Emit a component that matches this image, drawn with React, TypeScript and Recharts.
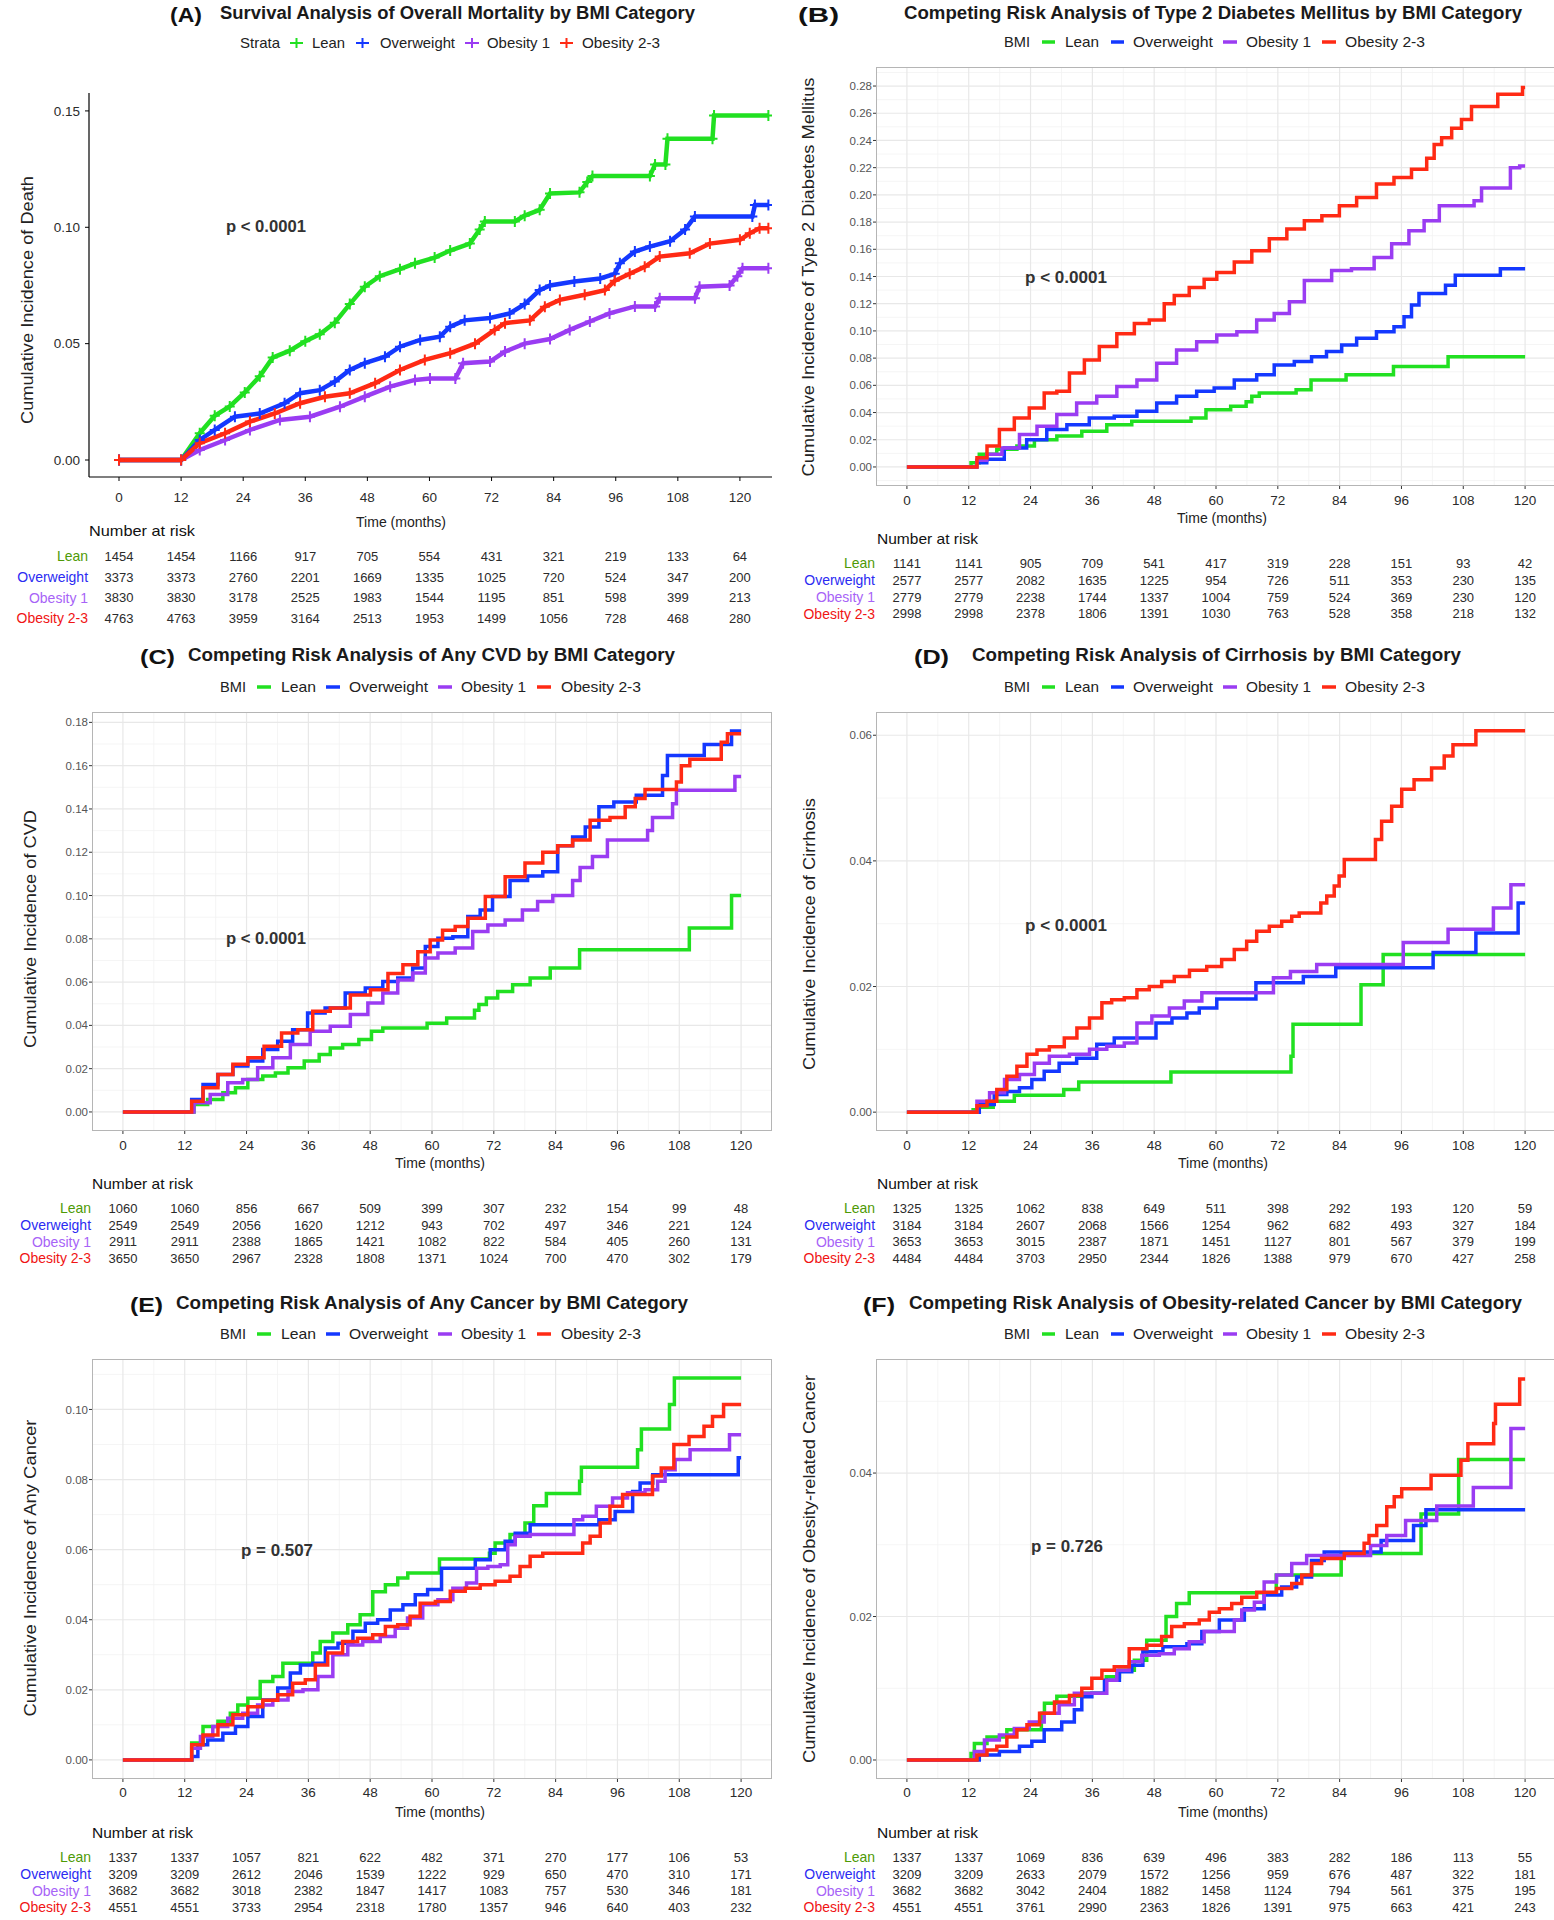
import React from "react";
import { LineChart, Line, XAxis, YAxis, CartesianGrid, ScatterChart, Scatter } from "recharts";

type Pt = [number, number];

const GROUPS = ["Lean", "Overweight", "Obesity 1", "Obesity 2-3"];
const LINE_COLORS = ["#21E021", "#1438FF", "#9A3CF2", "#FF2A14"];
const ROW_COLORS = ["#4E9A06", "#2B2BF2", "#A763F7", "#F01414"];
const MONTHS = [0, 12, 24, 36, 48, 60, 72, 84, 96, 108, 120];
const MINOR_MONTHS = [6, 18, 30, 42, 54, 66, 78, 90, 102, 114];

// (A) overall mortality, Kaplan-Meier style with censor marks
const A_LEAN: Pt[] = [[0,0],[12,0],[15.6,0.0115],[18.5,0.019],[21.4,0.023],[24.3,0.029],[27.2,0.036],[29.7,0.044],[33,0.047],[36,0.051],[38.8,0.054],[41.7,0.059],[44.6,0.067],[47.5,0.0745],[50.4,0.079],[54.3,0.082],[57.2,0.0845],[61,0.087],[64,0.09],[67.8,0.093],[69.7,0.099],[70.7,0.1025],[76.5,0.1025],[78.4,0.105],[81.3,0.1075],[83.3,0.1145],[89,0.115],[90.5,0.1195],[91.5,0.122],[102.6,0.122],[103.6,0.127],[105.6,0.127],[106,0.138],[114.7,0.138],[115,0.148],[125.5,0.148]];
const A_OVER: Pt[] = [[0,0],[12,0],[15.6,0.0086],[18.5,0.0129],[22.4,0.0186],[27.2,0.02],[32,0.0244],[35,0.0287],[38.8,0.03],[41.7,0.0337],[44.6,0.0387],[47.5,0.0416],[51.4,0.0444],[54.3,0.0487],[58.2,0.0516],[62,0.053],[64,0.0573],[66.8,0.06],[71.7,0.061],[75.5,0.063],[78.4,0.067],[81.3,0.073],[83.3,0.075],[88,0.0767],[93,0.078],[95.8,0.08],[96.8,0.0845],[99.7,0.0896],[102.6,0.0917],[106.5,0.094],[109.4,0.099],[111.3,0.1046],[122.4,0.1046],[122.9,0.1096],[125.5,0.1096]];
const A_OB1: Pt[] = [[0,0],[12,0],[15.6,0.0043],[20.5,0.0086],[25.3,0.0129],[31.1,0.0172],[36.9,0.0186],[42.7,0.0229],[47.5,0.0272],[52.4,0.0315],[57.2,0.0344],[60.1,0.035],[65,0.035],[66.5,0.0416],[71.7,0.0423],[74.6,0.0466],[78.4,0.05],[83.3,0.052],[87.1,0.0559],[91,0.0595],[94.8,0.063],[99.7,0.066],[103.6,0.066],[104.5,0.0695],[111.3,0.0695],[112.2,0.0745],[118,0.075],[119.5,0.079],[120.5,0.0824],[125.5,0.0824]];
const A_OB23: Pt[] = [[0,0],[12,0],[15.6,0.0072],[20.5,0.0115],[25.3,0.0165],[30.1,0.02],[35,0.0244],[39.8,0.0272],[44.6,0.0287],[49.5,0.033],[54.3,0.0387],[59.1,0.043],[64,0.0459],[68.8,0.05],[72.6,0.0559],[74.6,0.0588],[79.4,0.06],[82.3,0.0659],[85.2,0.0688],[90,0.071],[93.9,0.073],[95.8,0.077],[98.7,0.08],[101.6,0.083],[104.5,0.0874],[110.3,0.0888],[114.2,0.093],[120,0.0946],[121.9,0.0974],[123.8,0.0996],[125.5,0.0996]];
const A_RISK = [
  [1454, 1454, 1166, 917, 705, 554, 431, 321, 219, 133, 64],
  [3373, 3373, 2760, 2201, 1669, 1335, 1025, 720, 524, 347, 200],
  [3830, 3830, 3178, 2525, 1983, 1544, 1195, 851, 598, 399, 213],
  [4763, 4763, 3959, 3164, 2513, 1953, 1499, 1056, 728, 468, 280],
];

// (B) type 2 diabetes
const B_LEAN: Pt[] = [[0,0],[12.3,0],[12.6,0.003],[15.5,0.0093],[19.4,0.013],[23.3,0.0154],[26.2,0.02],[32,0.0227],[35.9,0.0263],[41.7,0.031],[45.6,0.0336],[55,0.0336],[55.3,0.036],[57.9,0.036],[58.2,0.042],[62.7,0.042],[63,0.0446],[65.7,0.0446],[66,0.048],[67.9,0.052],[68.9,0.0543],[75.4,0.0543],[75.7,0.0568],[78.3,0.0568],[78.6,0.064],[85.1,0.064],[85.4,0.0677],[94.3,0.0677],[94.6,0.0738],[104.9,0.0738],[105.2,0.0811],[120,0.0811]];
const B_OVER: Pt[] = [[0,0],[12.6,0],[14.5,0.003],[16.5,0.0056],[21.3,0.014],[25.2,0.02],[29.1,0.0275],[33,0.031],[37.8,0.036],[42.7,0.0373],[46.6,0.041],[50.4,0.047],[54.3,0.052],[58.2,0.0556],[61.1,0.058],[66,0.064],[69.8,0.0677],[72.8,0.075],[77.6,0.0775],[79.5,0.081],[83.4,0.0848],[85.4,0.0897],[89.2,0.0946],[93.1,0.0994],[96,0.103],[97,0.1104],[98.9,0.119],[99.9,0.1275],[104.3,0.1275],[104.8,0.1335],[106.2,0.1335],[106.7,0.141],[115,0.141],[115.4,0.1457],[120,0.1457]];
const B_OB1: Pt[] = [[0,0],[12.6,0],[14.5,0.005],[16.5,0.0093],[20.4,0.014],[23.3,0.0239],[27.2,0.03],[31,0.0385],[34.9,0.047],[38.8,0.052],[42.7,0.0592],[46.6,0.064],[50.4,0.0763],[54.3,0.086],[58.2,0.092],[62.1,0.097],[66,0.0994],[69.8,0.108],[72.8,0.1128],[75.7,0.1214],[78.6,0.137],[81.5,0.137],[83.4,0.1445],[89.2,0.1457],[92.2,0.154],[96,0.164],[98.9,0.1737],[101.9,0.181],[104.8,0.192],[109.6,0.192],[110.6,0.1957],[112.5,0.205],[116.4,0.205],[117.9,0.22],[120,0.2213]];
const B_OB23: Pt[] = [[0,0],[12.6,0],[14.6,0.0068],[16.5,0.0154],[19.4,0.0275],[22.3,0.036],[25.2,0.0434],[28.1,0.0543],[30.1,0.0556],[33,0.069],[35.9,0.0787],[38.8,0.0885],[42.7,0.098],[45.6,0.1055],[48.5,0.108],[51.4,0.12],[52.4,0.126],[57.2,0.132],[58.2,0.138],[62.1,0.143],[65,0.1506],[68.9,0.159],[71.8,0.1677],[75.7,0.175],[78.6,0.181],[82.5,0.1847],[85.4,0.192],[89.2,0.198],[93.1,0.208],[96,0.2127],[99.9,0.2188],[101.9,0.227],[102.8,0.237],[104.8,0.242],[106.7,0.249],[108.6,0.2554],[110.6,0.265],[114.5,0.265],[114.9,0.274],[119.3,0.274],[119.7,0.279],[120,0.279]];
const B_RISK = [
  [1141, 1141, 905, 709, 541, 417, 319, 228, 151, 93, 42],
  [2577, 2577, 2082, 1635, 1225, 954, 726, 511, 353, 230, 135],
  [2779, 2779, 2238, 1744, 1337, 1004, 759, 524, 369, 230, 120],
  [2998, 2998, 2378, 1806, 1391, 1030, 763, 528, 358, 218, 132],
];

// (C) any CVD
const C_LEAN: Pt[] = [[0,0],[12.6,0],[15,0.0035],[17.9,0.0058],[20.9,0.0089],[22.8,0.0112],[25.7,0.015],[28.6,0.0166],[30.6,0.018],[33.5,0.0204],[36.9,0.0235],[39.3,0.0266],[41.2,0.0296],[44.1,0.0312],[47.5,0.0335],[49,0.0373],[51.9,0.0388],[58.9,0.0388],[59.2,0.041],[62.7,0.041],[63,0.0434],[68.1,0.0434],[68.4,0.047],[69.8,0.0496],[71.3,0.0527],[74.2,0.0557],[77.1,0.0588],[81,0.0619],[84.9,0.0665],[88.5,0.0665],[88.8,0.075],[109.8,0.075],[110.1,0.085],[118,0.085],[118.3,0.1],[120,0.1]];
const C_OVER: Pt[] = [[0,0],[12.6,0],[14.1,0.0058],[17,0.0127],[19.9,0.0173],[22.8,0.0212],[25.7,0.0235],[28.6,0.0289],[31.5,0.0327],[34.4,0.038],[37.3,0.0457],[41.2,0.048],[45.1,0.055],[49,0.0573],[51.9,0.0603],[54.8,0.0619],[57.7,0.0665],[59.7,0.0764],[62.6,0.0803],[65.5,0.081],[68.4,0.0903],[70.3,0.0933],[73.2,0.0995],[77.1,0.107],[80,0.109],[83,0.111],[85.8,0.123],[88.8,0.127],[90.7,0.1317],[94.1,0.141],[96.5,0.1432],[99.4,0.1432],[99.9,0.1463],[104.3,0.1463],[105.2,0.1555],[106.2,0.1647],[112.7,0.1647],[113,0.1698],[118,0.1698],[118.3,0.176],[120,0.176]];
const C_OB1: Pt[] = [[0,0],[12.6,0],[15,0.0043],[18.9,0.0081],[21.8,0.0135],[24.7,0.015],[27.6,0.0204],[30.6,0.025],[34.4,0.0312],[38.3,0.0373],[42.2,0.0396],[46.1,0.045],[49,0.0503],[51.9,0.055],[54.8,0.061],[57.7,0.0642],[59.7,0.0711],[62.6,0.0734],[66.4,0.0757],[69.4,0.0834],[72.3,0.0864],[76.1,0.0887],[79,0.0933],[82,0.0972],[84.9,0.1],[86.8,0.1],[87.8,0.107],[89.7,0.113],[92.6,0.118],[95.5,0.1256],[101.4,0.1256],[102.3,0.13],[103.3,0.136],[106.2,0.136],[107.2,0.1424],[107.7,0.1486],[118.3,0.1486],[119.3,0.155],[120,0.155]];
const C_OB23: Pt[] = [[0,0],[12.6,0],[14.1,0.005],[17,0.0112],[19.9,0.0173],[22.8,0.022],[25.7,0.025],[29.1,0.0304],[32.5,0.0365],[35.4,0.038],[38.3,0.0465],[42.2,0.048],[46.1,0.054],[50,0.0565],[52.9,0.064],[55.8,0.068],[58.7,0.074],[60.6,0.0795],[63.5,0.084],[65.5,0.0857],[68.4,0.0895],[72.3,0.0995],[76.1,0.1087],[80,0.115],[83,0.12],[85.8,0.123],[88.8,0.1256],[92.6,0.1348],[96.5,0.136],[98.5,0.141],[100.4,0.1448],[102.3,0.149],[107.2,0.149],[107.7,0.1524],[109.1,0.16],[111,0.163],[115.9,0.163],[116.4,0.1708],[118.3,0.1747],[120,0.1747]];
const C_RISK = [
  [1060, 1060, 856, 667, 509, 399, 307, 232, 154, 99, 48],
  [2549, 2549, 2056, 1620, 1212, 943, 702, 497, 346, 221, 124],
  [2911, 2911, 2388, 1865, 1421, 1082, 822, 584, 405, 260, 131],
  [3650, 3650, 2967, 2328, 1808, 1371, 1024, 700, 470, 302, 179],
];

// (D) cirrhosis
const D_LEAN: Pt[] = [[0,0],[12.6,0],[13.1,0.0004],[14.6,0.0008],[18.9,0.00175],[22.8,0.0027],[30.3,0.0027],[30.6,0.0036],[33.2,0.0036],[33.5,0.0048],[51.1,0.0048],[51.4,0.0064],[74.4,0.0064],[74.7,0.0089],[75.2,0.014],[88,0.014],[88.3,0.0203],[92.3,0.0203],[92.6,0.0251],[120,0.0251]];
const D_OVER: Pt[] = [[0,0],[12.6,0],[15.5,0.0012],[18.4,0.0028],[20.4,0.0033],[23.3,0.0039],[25.2,0.0052],[28.1,0.0065],[31,0.0078],[34.9,0.0086],[38.8,0.0108],[41.7,0.0118],[47.2,0.0118],[49.5,0.0142],[53.4,0.015],[55.3,0.0158],[58.2,0.0166],[62.1,0.018],[67.6,0.018],[67.9,0.0206],[76.8,0.0206],[77.1,0.0216],[83.1,0.0216],[83.4,0.023],[102,0.023],[102.3,0.0254],[110.3,0.0254],[110.6,0.0285],[118.5,0.0285],[118.8,0.0333],[120,0.0333]];
const D_OB1: Pt[] = [[0,0],[12.6,0],[14.6,0.00175],[17.5,0.0031],[20.4,0.0052],[23.3,0.006],[26.2,0.0078],[29.1,0.0089],[34,0.0092],[36.9,0.01],[40.7,0.0105],[43.7,0.011],[45.6,0.0142],[49.5,0.0153],[52.4,0.0166],[55.3,0.0177],[59.2,0.019],[71,0.019],[71.3,0.0214],[77.6,0.0224],[81.5,0.0235],[96.2,0.0235],[96.5,0.027],[104.9,0.027],[105.2,0.0291],[113.7,0.0291],[114,0.0325],[117.1,0.0325],[117.4,0.0362],[120,0.0362]];
const D_OB23: Pt[] = [[0,0],[12.6,0],[14.6,0.001],[16.5,0.00175],[18.4,0.0036],[20.4,0.0057],[22.3,0.0073],[24.3,0.0092],[26.2,0.0099],[29.1,0.0104],[32,0.0118],[34,0.0134],[36.9,0.015],[38.8,0.0174],[40.7,0.0179],[43.7,0.0182],[45.6,0.0195],[48.5,0.02],[50.4,0.0208],[53.4,0.0216],[56.3,0.0226],[60.1,0.0232],[62.1,0.0243],[65,0.0259],[66.9,0.0272],[68.9,0.0288],[71.8,0.0296],[73.7,0.0304],[75.7,0.0312],[76.6,0.0317],[80.2,0.0317],[80.5,0.0333],[82.5,0.0344],[83.4,0.036],[84.4,0.0376],[85.4,0.0402],[90.7,0.0402],[91.2,0.0434],[93.1,0.0463],[95.1,0.0487],[97,0.0514],[99.9,0.0529],[103.8,0.0548],[104.8,0.0567],[107.2,0.0585],[110.3,0.0585],[110.6,0.0607],[120,0.0607]];
const D_RISK = [
  [1325, 1325, 1062, 838, 649, 511, 398, 292, 193, 120, 59],
  [3184, 3184, 2607, 2068, 1566, 1254, 962, 682, 493, 327, 184],
  [3653, 3653, 3015, 2387, 1871, 1451, 1127, 801, 567, 379, 199],
  [4484, 4484, 3703, 2950, 2344, 1826, 1388, 979, 670, 427, 258],
];

// (E) any cancer
const E_LEAN: Pt[] = [[0,0],[12.6,0],[14.1,0.0048],[17,0.0095],[19.9,0.011],[21.8,0.0133],[22.8,0.0157],[25.7,0.0176],[27.6,0.0224],[30.6,0.0238],[31.5,0.0276],[36.4,0.0276],[37.3,0.0305],[39.3,0.0338],[42.2,0.0362],[45.1,0.0386],[47,0.0414],[50,0.048],[51.9,0.05],[54.8,0.0519],[55.8,0.0533],[61.3,0.0533],[61.6,0.0573],[71,0.0573],[71.3,0.059],[73.2,0.0619],[77.1,0.0643],[79,0.0676],[80.5,0.0725],[83.9,0.076],[88.5,0.076],[88.8,0.0795],[89.2,0.0835],[99.4,0.0835],[100.4,0.0885],[100.9,0.0944],[106,0.0944],[106.2,0.1014],[106.9,0.1014],[107.2,0.109],[120,0.109]];
const E_OVER: Pt[] = [[0,0],[12.6,0],[14.1,0.001],[15,0.0043],[17.9,0.0057],[20.9,0.0076],[22.8,0.0095],[25.7,0.0124],[28.6,0.0171],[31.5,0.0205],[33.5,0.0248],[35.4,0.0271],[38.3,0.0276],[40.3,0.0319],[43.2,0.0333],[46.1,0.0367],[48,0.039],[50.9,0.04],[52.9,0.0428],[55.8,0.0443],[57.7,0.0471],[60.6,0.0486],[63.1,0.0547],[67.4,0.0547],[69.4,0.0571],[73.2,0.06],[75.2,0.0624],[77.1,0.0647],[81,0.0671],[92.2,0.0671],[92.6,0.0685],[98.5,0.0709],[99.4,0.0766],[101.4,0.079],[104.3,0.0814],[119.3,0.0814],[119.6,0.0862],[120,0.0862]];
const E_OB1: Pt[] = [[0,0],[12.6,0],[14.1,0.0033],[16,0.0067],[18.9,0.0095],[21.8,0.0119],[24.7,0.0133],[27.6,0.0157],[30.6,0.0171],[33.5,0.0195],[36.4,0.02],[39.3,0.0238],[42.2,0.03],[45.1,0.0328],[48,0.0338],[51.9,0.0352],[53.8,0.0376],[56.7,0.0405],[59.7,0.0443],[62.6,0.0457],[65.5,0.049],[67.9,0.0505],[69.4,0.0547],[72.3,0.0552],[74.2,0.0557],[75.2,0.0614],[77.1,0.0638],[81,0.0643],[86.8,0.0643],[88.3,0.0685],[90.2,0.0695],[93.6,0.0724],[96.5,0.0747],[99.4,0.0762],[103.3,0.0771],[104.3,0.0795],[106.2,0.0828],[108.2,0.0857],[112,0.0885],[117.6,0.0885],[117.9,0.0928],[120,0.0928]];
const E_OB23: Pt[] = [[0,0],[12.6,0],[14.1,0.0043],[17,0.0071],[19.9,0.01],[22.8,0.0129],[25.7,0.0152],[28.6,0.017],[31.5,0.0186],[34.4,0.0219],[36.4,0.0229],[38.3,0.0271],[41.2,0.0305],[44.1,0.0338],[47,0.0347],[50,0.0357],[51.9,0.0381],[54.8,0.0386],[56.7,0.041],[58.7,0.0447],[62.6,0.0452],[64.5,0.0481],[68.4,0.049],[70.3,0.05],[74.2,0.051],[76.1,0.0524],[78.1,0.0552],[80,0.0581],[83,0.059],[88.8,0.059],[89.7,0.0619],[91.7,0.0638],[93.6,0.0676],[95.5,0.0724],[98.5,0.0757],[102.3,0.0757],[103.3,0.081],[105.7,0.0833],[108.2,0.09],[111.6,0.0923],[114,0.0952],[114.9,0.098],[118.3,0.1014],[120,0.1014]];
const E_RISK = [
  [1337, 1337, 1057, 821, 622, 482, 371, 270, 177, 106, 53],
  [3209, 3209, 2612, 2046, 1539, 1222, 929, 650, 470, 310, 171],
  [3682, 3682, 3018, 2382, 1847, 1417, 1083, 757, 530, 346, 181],
  [4551, 4551, 3733, 2954, 2318, 1780, 1357, 946, 640, 403, 232],
];

// (F) obesity-related cancer
const F_LEAN: Pt[] = [[0,0],[12.3,0],[12.6,0.0009],[13.6,0.0023],[17.5,0.0032],[21.3,0.0042],[26,0.0042],[26.2,0.0065],[27.2,0.0079],[31,0.0089],[36.9,0.0093],[38.6,0.0093],[38.8,0.0116],[43.7,0.0125],[44.6,0.0139],[48.5,0.0167],[50.2,0.0167],[50.4,0.02],[54.3,0.0218],[55.3,0.0233],[71.6,0.0233],[71.8,0.0258],[84.2,0.0258],[84.4,0.0288],[99.7,0.0288],[99.9,0.0343],[107,0.0343],[107.2,0.0419],[120,0.0419]];
const F_OVER: Pt[] = [[0,0],[12.6,0],[15.5,0.0007],[20.4,0.0012],[23.3,0.0019],[25.2,0.0026],[28.1,0.0042],[32,0.0053],[33,0.007],[34.9,0.0088],[36.9,0.0093],[39.8,0.0111],[42.7,0.0123],[44.6,0.0132],[47,0.0151],[52.4,0.0158],[56.3,0.0162],[58.2,0.0179],[63.1,0.0195],[67.9,0.0211],[70.8,0.023],[74.7,0.0241],[76.6,0.0255],[80.5,0.0278],[81.5,0.029],[91.9,0.029],[92.2,0.0306],[98.2,0.0306],[98.5,0.0327],[100.6,0.0327],[100.9,0.0349],[120,0.0349]];
const F_OB1: Pt[] = [[0,0],[12.6,0],[13.6,0.0012],[16.5,0.0028],[19.4,0.0035],[22.3,0.0044],[25.2,0.0053],[28.1,0.0065],[31,0.0077],[34,0.0093],[37.8,0.0093],[39.8,0.0111],[41.7,0.0125],[44.6,0.0137],[46.6,0.0146],[51.4,0.0148],[52.4,0.0155],[57.2,0.0165],[58.2,0.0179],[63.1,0.0179],[64,0.0195],[66,0.0209],[68.9,0.022],[69.8,0.0248],[73.7,0.0258],[75.7,0.0274],[79.5,0.0285],[88.8,0.0285],[91.2,0.0299],[95.1,0.0313],[98.5,0.0334],[101.4,0.0334],[104.3,0.0354],[109.8,0.0354],[110.1,0.038],[117.1,0.038],[117.4,0.0462],[120,0.0462]];
const F_OB23: Pt[] = [[0,0],[12.6,0],[14.6,0.0007],[16.5,0.0014],[18.4,0.0019],[20.4,0.0032],[22.3,0.0042],[24.3,0.0049],[27.2,0.0065],[30.1,0.0081],[33,0.009],[34.9,0.01],[36.9,0.0114],[38.8,0.0125],[41.7,0.013],[44.6,0.0155],[48.5,0.016],[50.4,0.0172],[52.4,0.0186],[55.3,0.019],[58.2,0.0195],[59.2,0.0206],[62.1,0.0211],[64,0.0218],[66,0.0227],[69.8,0.0234],[73.7,0.0239],[75.7,0.0246],[77.6,0.0258],[79.5,0.0274],[81.5,0.0281],[88.3,0.0288],[89.2,0.0302],[90.2,0.0313],[92.2,0.0327],[94.1,0.0353],[95.1,0.0367],[97,0.0378],[101.6,0.0378],[101.9,0.0397],[107.4,0.0397],[107.7,0.0418],[110.1,0.0441],[113.8,0.0441],[114,0.0469],[114.5,0.0496],[118.6,0.0496],[119.3,0.0531],[120,0.0531]];
const F_RISK = [
  [1337, 1337, 1069, 836, 639, 496, 383, 282, 186, 113, 55],
  [3209, 3209, 2633, 2079, 1572, 1256, 959, 676, 487, 322, 181],
  [3682, 3682, 3042, 2404, 1882, 1458, 1124, 794, 561, 375, 195],
  [4551, 4551, 3761, 2990, 2363, 1826, 1391, 975, 663, 421, 243],
];

const SANS = "'Liberation Sans', Arial, Helvetica, sans-serif";

type Legend = { lead: string; leadX: number[]; keys: number[][]; texts: number[][]; y: number };
const legL = (y: number): Legend => ({ lead: "BMI", leadX: [220, 246], keys: [[257, 271], [326, 340], [438, 452], [537, 551]], texts: [[281, 316], [349, 428], [461, 526], [561, 641]], y });
const legR = (y: number): Legend => ({ lead: "BMI", leadX: [1004, 1030], keys: [[1042, 1055], [1111, 1124], [1223, 1237], [1322, 1336]], texts: [[1065, 1099], [1133, 1213], [1246, 1311], [1345, 1425]], y });

type Panel = {
  letter: string; title: string; tb: number[];
  legend: Legend;
  yTitle: string; yt: number[];
  pText: string; pb: number[];
  time: number[]; nar: number[];
  plot: { x: number; y: number; w: number; h: number };
  xDomain: [number, number]; yDomain: [number, number];
  yTicks: number[]; yMinor: number[];
  series: Pt[][]; risk: number[][]; riskTop: number; riskH: number;
  classic: boolean; xm: number; ym: number;
};

const R = [-6, 126] as [number, number];

const PANELS: Panel[] = [
  {
    letter: "(A)", title: "Survival Analysis of Overall Mortality by BMI Category", tb: [170, 202, 220, 695, 12.5],
    legend: { lead: "Strata", leadX: [240, 280], keys: [[290, 303], [356, 369], [465, 479], [560, 573]], texts: [[312, 345], [380, 455], [487, 550], [582, 660]], y: 43 },
    yTitle: "Cumulative Incidence of Death", yt: [27, 300, 248],
    pText: "p < 0.0001", pb: [266, 226, 80], time: [401, 522], nar: [89, 530, 106],
    plot: { x: 89, y: 93, w: 683, h: 384 }, xDomain: [-5.8, 126.2], yDomain: [-0.0073, 0.1577],
    yTicks: [0, 0.05, 0.1, 0.15], yMinor: [],
    series: [A_LEAN, A_OVER, A_OB1, A_OB23], risk: A_RISK, riskTop: 545.7, riskH: 82.7,
    classic: true, xm: 11, ym: 5,
  },
  {
    letter: "(B)", title: "Competing Risk Analysis of Type 2 Diabetes Mellitus by BMI Category", tb: [798, 839, 904, 1522, 12.5],
    legend: legR(42),
    yTitle: "Cumulative Incidence of Type 2 Diabetes Mellitus", yt: [808, 277, 399],
    pText: "p < 0.0001", pb: [1066, 277, 82], time: [1222, 518], nar: [877, 538, 101],
    plot: { x: 876, y: 67, w: 680, h: 419 }, xDomain: R, yDomain: [-0.014, 0.294],
    yTicks: [0, 0.02, 0.04, 0.06, 0.08, 0.1, 0.12, 0.14, 0.16, 0.18, 0.2, 0.22, 0.24, 0.26, 0.28],
    yMinor: [-0.01, 0.01, 0.03, 0.05, 0.07, 0.09, 0.11, 0.13, 0.15, 0.17, 0.19, 0.21, 0.23, 0.25, 0.27, 0.29],
    series: [B_LEAN, B_OVER, B_OB1, B_OB23], risk: B_RISK, riskTop: 554.6, riskH: 67.3,
    classic: false, xm: 6, ym: 1,
  },
  {
    letter: "(C)", title: "Competing Risk Analysis of Any CVD by BMI Category", tb: [140, 175, 188, 675, 655],
    legend: legL(687),
    yTitle: "Cumulative Incidence of CVD", yt: [30, 929, 238],
    pText: "p < 0.0001", pb: [266, 938, 80], time: [440, 1163], nar: [92, 1183, 101],
    plot: { x: 92, y: 712, w: 680, h: 419 }, xDomain: R, yDomain: [-0.0088, 0.1848],
    yTicks: [0, 0.02, 0.04, 0.06, 0.08, 0.1, 0.12, 0.14, 0.16, 0.18],
    yMinor: [0.01, 0.03, 0.05, 0.07, 0.09, 0.11, 0.13, 0.15, 0.17],
    series: [C_LEAN, C_OVER, C_OB1, C_OB23], risk: C_RISK, riskTop: 1199.7, riskH: 66.7,
    classic: false, xm: 6, ym: 1,
  },
  {
    letter: "(D)", title: "Competing Risk Analysis of Cirrhosis by BMI Category", tb: [914, 949, 972, 1461, 655],
    legend: legR(687),
    yTitle: "Cumulative Incidence of Cirrhosis", yt: [809, 934, 272],
    pText: "p < 0.0001", pb: [1066, 925, 82], time: [1223, 1163], nar: [877, 1183, 101],
    plot: { x: 876, y: 712, w: 680, h: 419 }, xDomain: R, yDomain: [-0.003, 0.0637],
    yTicks: [0, 0.02, 0.04, 0.06], yMinor: [0.01, 0.03, 0.05],
    series: [D_LEAN, D_OVER, D_OB1, D_OB23], risk: D_RISK, riskTop: 1199.7, riskH: 66.7,
    classic: false, xm: 6, ym: 1,
  },
  {
    letter: "(E)", title: "Competing Risk Analysis of Any Cancer by BMI Category", tb: [130, 163, 176, 688, 1303],
    legend: legL(1334),
    yTitle: "Cumulative Incidence of Any Cancer", yt: [30, 1568, 297],
    pText: "p = 0.507", pb: [277, 1550, 72], time: [440, 1812], nar: [92, 1832, 101],
    plot: { x: 92, y: 1359, w: 680, h: 420 }, xDomain: R, yDomain: [-0.00545, 0.1144],
    yTicks: [0, 0.02, 0.04, 0.06, 0.08, 0.1], yMinor: [0.01, 0.03, 0.05, 0.07, 0.09, 0.11],
    series: [E_LEAN, E_OVER, E_OB1, E_OB23], risk: E_RISK, riskTop: 1848.7, riskH: 66.7,
    classic: false, xm: 5, ym: 1,
  },
  {
    letter: "(F)", title: "Competing Risk Analysis of Obesity-related Cancer by BMI Category", tb: [863, 895, 909, 1522, 1303],
    legend: legR(1334),
    yTitle: "Cumulative Incidence of Obesity-related Cancer", yt: [809, 1569, 388],
    pText: "p = 0.726", pb: [1067, 1546, 72], time: [1223, 1812], nar: [877, 1832, 101],
    plot: { x: 876, y: 1359, w: 680, h: 420 }, xDomain: R, yDomain: [-0.00265, 0.0559],
    yTicks: [0, 0.02, 0.04], yMinor: [0.01, 0.03, 0.05],
    series: [F_LEAN, F_OVER, F_OB1, F_OB23], risk: F_RISK, riskTop: 1848.7, riskH: 66.7,
    classic: false, xm: 5, ym: 1,
  },
];

const YW = 50;
const MT = 4;
const MR = 4;
const XH = 30;
const RW = 90;

const toRows = (s: Pt[]) => s.map(([t, v]) => ({ t, v }));

function PanelChart({ p }: { p: Panel }) {
  const { x, y, w, h } = p.plot;
  const tickColor = p.classic ? "#000" : "#333";
  return (
    <>
      <div style={{ position: "absolute", left: x - YW, top: y - MT }}>
        <LineChart width={w + YW + MR} height={h + MT + XH} margin={{ top: MT, right: MR, left: 0, bottom: 0 }}>
          {!p.classic && (
            <CartesianGrid stroke="#f3f3f3" strokeWidth={0.8} horizontalValues={p.yMinor} verticalValues={MINOR_MONTHS} />
          )}
          {!p.classic && (
            <CartesianGrid stroke="#e8e8e8" strokeWidth={1.2} horizontalValues={p.yTicks} verticalValues={MONTHS} />
          )}
          <XAxis
            type="number" dataKey="t" domain={p.xDomain} allowDataOverflow ticks={MONTHS} interval={0} height={XH}
            axisLine={p.classic ? { stroke: "#000", strokeWidth: 1.2 } : false}
            tickLine={{ stroke: tickColor }} tickSize={p.classic ? 4 : 3} tickMargin={p.xm}
            tick={{ fontSize: 13.5, fill: "#2b2b2b", fontFamily: SANS }}
          />
          <YAxis
            type="number" domain={p.yDomain} allowDataOverflow ticks={p.yTicks} interval={0} width={YW}
            axisLine={p.classic ? { stroke: "#000", strokeWidth: 1.2 } : false}
            tickLine={{ stroke: tickColor }} tickSize={p.classic ? 4 : 3} tickMargin={p.ym}
            tickFormatter={(v: number) => v.toFixed(2)}
            tick={{ fontSize: p.classic ? 13.5 : 11.5, fill: p.classic ? "#2b2b2b" : "#555", fontFamily: SANS }}
          />
          {p.series.map((s, i) => (
            <Line
              key={GROUPS[i]}
              data={toRows(s)}
              dataKey="v"
              name={GROUPS[i]}
              type={p.classic ? "linear" : "step"}
              stroke={LINE_COLORS[i]}
              strokeWidth={p.classic ? 4.5 : 3.5}
              dot={
                p.classic
                  ? (d: any) => (
                      <path
                        key={`${i}-${d.index}`}
                        d={`M${d.cx - 5},${d.cy}h10M${d.cx},${d.cy - 5.5}v11`}
                        stroke={LINE_COLORS[i]}
                        strokeWidth={2}
                        fill="none"
                      />
                    )
                  : false
              }
              isAnimationActive={false}
            />
          ))}
        </LineChart>
      </div>
      {!p.classic && (
        <div
          style={{
            position: "absolute", left: x, top: y, width: w, height: h,
            border: "1px solid #b5b5b5", boxSizing: "border-box", pointerEvents: "none",
          }}
        />
      )}
    </>
  );
}

function RiskTable({ p }: { p: Panel }) {
  const { x, w } = p.plot;
  const rows = p.risk.flatMap((vals, gi) => vals.map((n, i) => ({ t: MONTHS[i], row: gi, n })));
  return (
    <div style={{ position: "absolute", left: x - RW, top: p.riskTop }}>
      <ScatterChart width={w + RW + MR} height={p.riskH} margin={{ top: 0, right: MR, left: 0, bottom: 0 }}>
        <XAxis type="number" dataKey="t" domain={p.xDomain} allowDataOverflow hide />
        <YAxis
          type="number" dataKey="row" domain={[-0.5, 3.5]} reversed ticks={[0, 1, 2, 3]} interval={0}
          width={RW} axisLine={false} tickLine={false} tickSize={0} tickMargin={0}
          tick={(t: any) => (
            <text
              key={t.index} x={t.x - 1} y={t.y} textAnchor="end" dominantBaseline="central"
              fontSize={14} fill={ROW_COLORS[t.payload.value]} fontFamily={SANS}
            >
              {GROUPS[t.payload.value]}
            </text>
          )}
        />
        <Scatter
          data={rows}
          isAnimationActive={false}
          shape={(s: any) => (
            <text x={s.cx} y={s.cy} textAnchor="middle" dominantBaseline="central" fontSize={13} fill="#2b2b2b" fontFamily={SANS}>
              {s.payload.n}
            </text>
          )}
        />
      </ScatterChart>
    </div>
  );
}

function Fit({ x, y, len, size, weight = 400, fill = "#1a1a1a", anchor = "start", rotate = false, children }: any) {
  return (
    <text
      x={x} y={y} fontSize={size} fontWeight={weight} fill={fill} fontFamily={SANS}
      textLength={len} lengthAdjust="spacingAndGlyphs" textAnchor={anchor} dominantBaseline="central"
      transform={rotate ? `rotate(-90 ${x} ${y})` : undefined}
    >
      {children}
    </text>
  );
}

function Overlay({ p }: { p: Panel }) {
  const [l0, l1, t0, t1, ty] = p.tb;
  const lg = p.legend;
  return (
    <g>
      <Fit x={l0} y={ty + 1.5} len={l1 - l0} size={21} weight={700} fill="#111">{p.letter}</Fit>
      <Fit x={t0} y={ty} len={t1 - t0} size={17.5} weight={700} fill="#1a1a1a">{p.title}</Fit>
      <Fit x={lg.leadX[0]} y={lg.y} len={lg.leadX[1] - lg.leadX[0]} size={14.5} fill="#222">{lg.lead}</Fit>
      {GROUPS.map((g, i) => {
        const [k0, k1] = lg.keys[i];
        const [s0, s1] = lg.texts[i];
        return (
          <g key={g}>
            <line x1={k0} x2={k1} y1={lg.y} y2={lg.y} stroke={LINE_COLORS[i]} strokeWidth={p.classic ? 2 : 3.5} />
            {p.classic && (
              <line x1={(k0 + k1) / 2} x2={(k0 + k1) / 2} y1={lg.y - 5} y2={lg.y + 5} stroke={LINE_COLORS[i]} strokeWidth={2} />
            )}
            <Fit x={s0} y={lg.y} len={s1 - s0} size={14.5} fill="#222">{g}</Fit>
          </g>
        );
      })}
      <Fit x={p.pb[0]} y={p.pb[1]} len={p.pb[2]} size={16.5} weight={700} fill="#333" anchor="middle">{p.pText}</Fit>
      <Fit x={p.time[0]} y={p.time[1]} len={90} size={14} fill="#222" anchor="middle">Time (months)</Fit>
      <Fit x={p.nar[0]} y={p.nar[1]} len={p.nar[2]} size={15} fill="#111">Number at risk</Fit>
      <Fit x={p.yt[0]} y={p.yt[1]} len={p.yt[2]} size={17} fill="#222" anchor="middle" rotate>{p.yTitle}</Fit>
    </g>
  );
}

export default function App() {
  return (
    <div
      style={{
        position: "absolute", left: 0, top: 0, width: 1554, height: 1920, overflow: "hidden",
        background: "#fff", fontFamily: SANS,
      }}
    >
      {PANELS.map((p) => (
        <React.Fragment key={p.letter}>
          <PanelChart p={p} />
          <RiskTable p={p} />
        </React.Fragment>
      ))}
      <svg width={1554} height={1920} style={{ position: "absolute", left: 0, top: 0, pointerEvents: "none" }}>
        {PANELS.map((p) => (
          <Overlay key={p.letter} p={p} />
        ))}
      </svg>
    </div>
  );
}
